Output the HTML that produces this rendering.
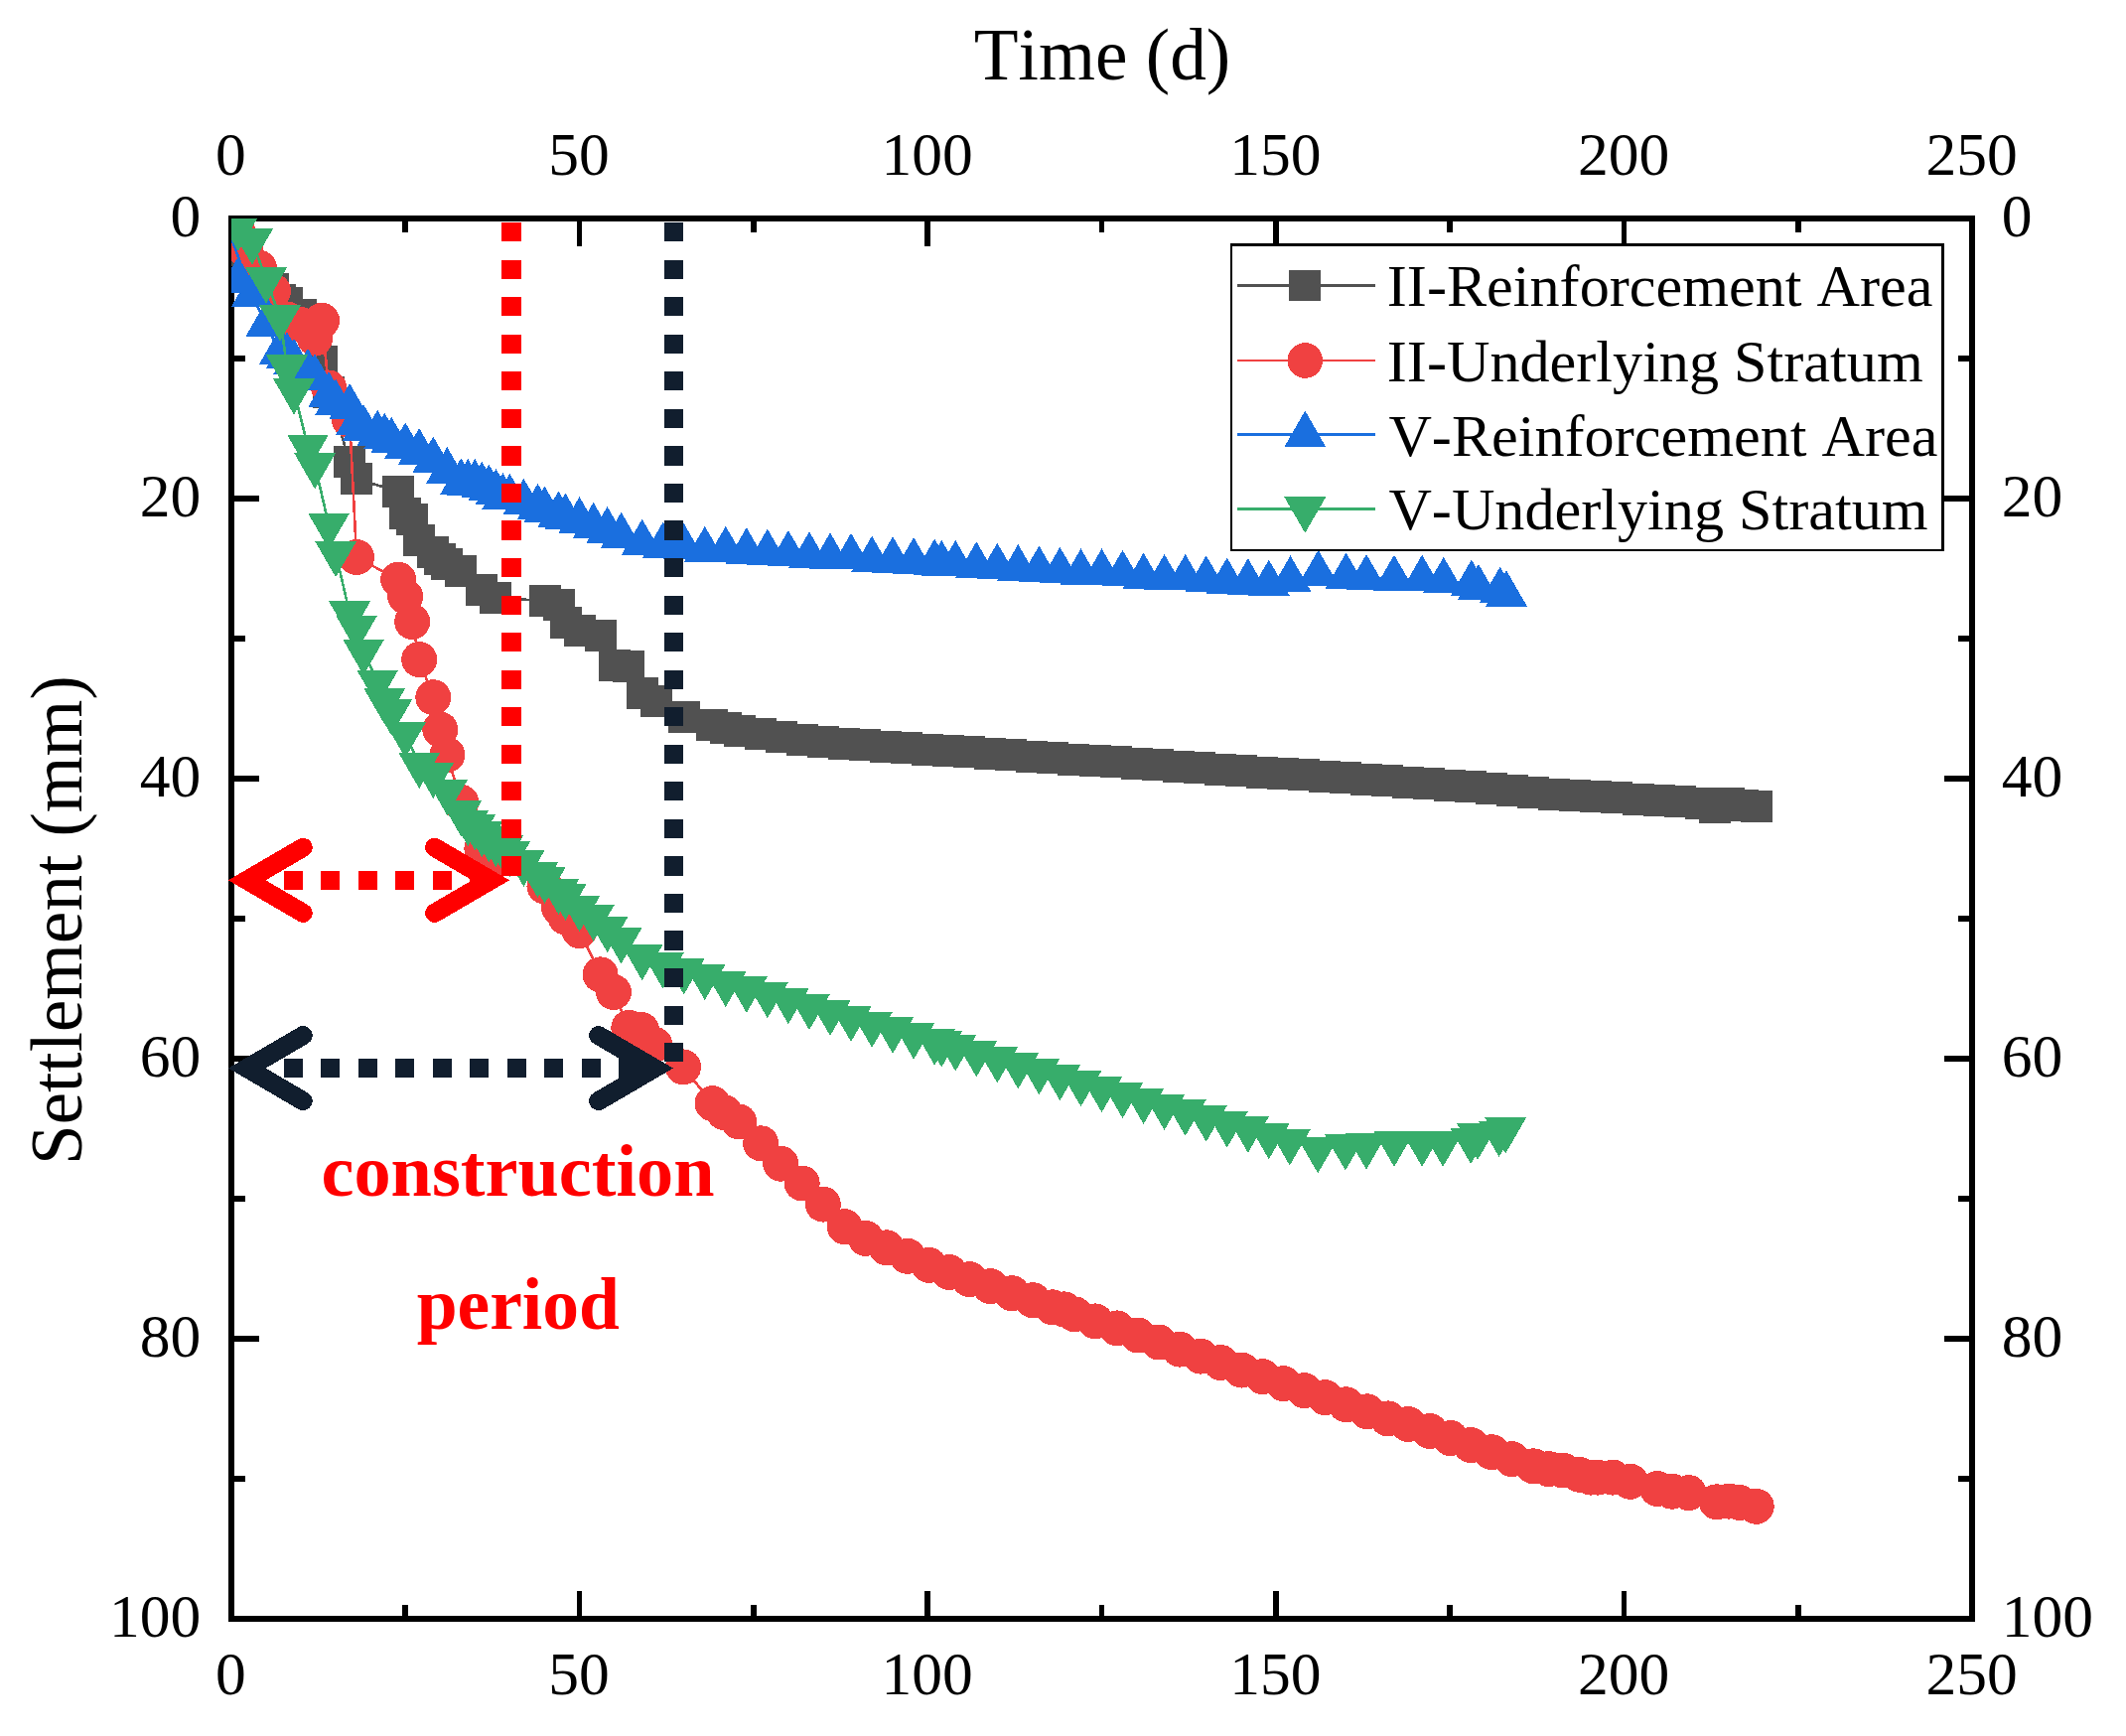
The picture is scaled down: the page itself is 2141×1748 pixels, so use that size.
<!DOCTYPE html>
<html lang="en"><head><meta charset="utf-8"><title>Settlement vs Time</title>
<style>html,body{margin:0;padding:0;background:#fff}svg{display:block}text{font-family:"Liberation Serif",serif;fill:#000;font-kerning:none}</style></head><body>
<svg width="2141" height="1748" viewBox="0 0 2141 1748" shape-rendering="crispEdges">
<rect width="2141" height="1748" fill="#fff"/>
<defs><clipPath id="plot"><rect x="232.9" y="219.9" width="1753.2" height="1410.1"/></clipPath></defs>
<g stroke="#000" stroke-width="5.6" fill="none" stroke-linecap="butt">
<rect x="232.9" y="219.9" width="1753.2" height="1410.1"/>
<path d="M232.9 1630V1602.2M232.9 219.9V247.7M408.2 1630V1616.2M408.2 219.9V233.7M583.5 1630V1602.2M583.5 219.9V247.7M758.9 1630V1616.2M758.9 219.9V233.7M934.2 1630V1602.2M934.2 219.9V247.7M1109.5 1630V1616.2M1109.5 219.9V233.7M1284.8 1630V1602.2M1284.8 219.9V247.7M1460.1 1630V1616.2M1460.1 219.9V233.7M1635.5 1630V1602.2M1635.5 219.9V247.7M1810.8 1630V1616.2M1810.8 219.9V233.7M1986.1 1630V1602.2M1986.1 219.9V247.7M232.9 219.9H260.7M1986.1 219.9H1958.3M232.9 360.9H246.7M1986.1 360.9H1972.3M232.9 501.9H260.7M1986.1 501.9H1958.3M232.9 642.9H246.7M1986.1 642.9H1972.3M232.9 783.9H260.7M1986.1 783.9H1958.3M232.9 924.9H246.7M1986.1 924.9H1972.3M232.9 1066H260.7M1986.1 1066H1958.3M232.9 1207H246.7M1986.1 1207H1972.3M232.9 1348H260.7M1986.1 1348H1958.3M232.9 1489H246.7M1986.1 1489H1972.3M232.9 1630H260.7M1986.1 1630H1958.3"/>
</g>
<g clip-path="url(#plot)">
<g fill="#515151">
<polyline points="246.9,252.3 275,291 282,301.7 289,304.5 303,317.2 324.1,363.7 331.1,394.8 352.1,465.3 359.1,482.2 401.2,494.9 408.2,517.4 415.2,523.1 422.2,544.2 436.3,555.5 443.3,562.6 450.3,568.2 464.3,575.2 485.4,593.6 499.4,602 548.5,604.9 562.5,609.1 569.5,627.4 583.5,634.5 604.6,640.1 618.6,669.7 632.6,671.1 646.7,697.9 660.7,706.4 688.7,721.9 716.8,730.4 730.8,733.2 744.8,736 765.9,738.8 786.9,741.6 807.9,744.5 829,747.3 850,748.7 871.1,750.1 892.1,751.6 913.1,753 934.2,754.5 955.2,755.9 976.3,757.3 997.3,758.8 1018.3,760.2 1039.4,761.7 1060.4,763.1 1081.4,764.6 1102.5,766 1123.5,767.4 1144.6,768.9 1165.6,770.3 1186.6,771.8 1207.7,773.2 1228.7,774.7 1249.8,776.1 1270.8,777.5 1291.8,779 1312.9,780.4 1333.9,781.9 1354.9,783.3 1376,784.8 1397,786.2 1418.1,787.6 1439.1,789.1 1460.1,790.5 1481.2,792 1502.2,793.8 1523.3,796.1 1544.3,798 1565.3,799.7 1586.4,801.1 1607.4,802 1628.4,803.4 1649.5,804.7 1670.5,805.5 1691.6,806.5 1712.6,808.6 1726.6,812.8 1740.7,809.3 1754.7,810.7 1769.1,812.1" fill="none" stroke="#515151" stroke-width="2.6" stroke-linejoin="round"/>
<path d="M230.9 236.3h32v32h-32zM259 275h32v32h-32zM266 285.7h32v32h-32zM273 288.5h32v32h-32zM287 301.2h32v32h-32zM308.1 347.7h32v32h-32zM315.1 378.8h32v32h-32zM336.1 449.3h32v32h-32zM343.1 466.2h32v32h-32zM385.2 478.9h32v32h-32zM392.2 501.4h32v32h-32zM399.2 507.1h32v32h-32zM406.2 528.2h32v32h-32zM420.3 539.5h32v32h-32zM427.3 546.6h32v32h-32zM434.3 552.2h32v32h-32zM448.3 559.2h32v32h-32zM469.4 577.6h32v32h-32zM483.4 586h32v32h-32zM532.5 588.9h32v32h-32zM546.5 593.1h32v32h-32zM553.5 611.4h32v32h-32zM567.5 618.5h32v32h-32zM588.6 624.1h32v32h-32zM602.6 653.7h32v32h-32zM616.6 655.1h32v32h-32zM630.7 681.9h32v32h-32zM644.7 690.4h32v32h-32zM672.7 705.9h32v32h-32zM700.8 714.4h32v32h-32zM714.8 717.2h32v32h-32zM728.8 720h32v32h-32zM749.9 722.8h32v32h-32zM770.9 725.6h32v32h-32zM791.9 728.5h32v32h-32zM813 731.3h32v32h-32zM834 732.7h32v32h-32zM855.1 734.1h32v32h-32zM876.1 735.6h32v32h-32zM897.1 737h32v32h-32zM918.2 738.5h32v32h-32zM939.2 739.9h32v32h-32zM960.3 741.3h32v32h-32zM981.3 742.8h32v32h-32zM1002.3 744.2h32v32h-32zM1023.4 745.7h32v32h-32zM1044.4 747.1h32v32h-32zM1065.4 748.6h32v32h-32zM1086.5 750h32v32h-32zM1107.5 751.4h32v32h-32zM1128.6 752.9h32v32h-32zM1149.6 754.3h32v32h-32zM1170.6 755.8h32v32h-32zM1191.7 757.2h32v32h-32zM1212.7 758.7h32v32h-32zM1233.8 760.1h32v32h-32zM1254.8 761.5h32v32h-32zM1275.8 763h32v32h-32zM1296.9 764.4h32v32h-32zM1317.9 765.9h32v32h-32zM1338.9 767.3h32v32h-32zM1360 768.8h32v32h-32zM1381 770.2h32v32h-32zM1402.1 771.6h32v32h-32zM1423.1 773.1h32v32h-32zM1444.1 774.5h32v32h-32zM1465.2 776h32v32h-32zM1486.2 777.8h32v32h-32zM1507.3 780.1h32v32h-32zM1528.3 782h32v32h-32zM1549.3 783.7h32v32h-32zM1570.4 785.1h32v32h-32zM1591.4 786h32v32h-32zM1612.4 787.4h32v32h-32zM1633.5 788.7h32v32h-32zM1654.5 789.5h32v32h-32zM1675.6 790.5h32v32h-32zM1696.6 792.6h32v32h-32zM1710.6 796.8h32v32h-32zM1724.7 793.3h32v32h-32zM1738.7 794.7h32v32h-32zM1753.1 796.1h32v32h-32z"/>
</g>
<g fill="#F04141">
<polyline points="239.9,235.4 246.9,250.9 261,269.8 275,293.2 289,321.4 303,327.1 317.1,340.7 324.1,322.8 331.1,390.5 352.1,423 359.1,561.1 401.2,583.7 408.2,600.6 415.2,626 422.2,664.1 436.3,702.2 443.3,734.6 450.3,760 464.3,807.9 485.4,854.4 499.4,865.7 548.5,892.5 562.9,913.7 569.5,923.5 583.5,937.1 604.6,981.4 617.9,999 633.3,1034.9 646,1037.1 659.3,1051.9 688,1074.4 717.5,1111.1 729.4,1120.2 744.1,1129.4 766.2,1151.3 786.2,1171.7 807.7,1191.5 828.8,1212.6 850.7,1235.2 871.8,1246.9 892.8,1256.3 913.8,1264.8 935.6,1273.9 955.9,1281 976.3,1288.1 997.3,1295.1 1019,1302.2 1040.1,1309.2 1059.7,1316.3 1071.6,1318.4 1082.2,1323.3 1103.2,1330.4 1124.9,1337.4 1146,1344.5 1167,1351.5 1188,1358.6 1209.1,1365.6 1229.4,1372 1250.5,1379.6 1271.5,1386.1 1292.5,1393.1 1313.6,1400.2 1334.6,1407.2 1355.6,1414.3 1376.7,1421.3 1397.7,1428.4 1418.1,1434 1439.8,1441 1460.8,1448.1 1481.2,1455.1 1502.2,1462.2 1522.6,1469.2 1544.3,1476.3 1559.7,1479.1 1573.7,1480.5 1590.6,1484.8 1601.8,1487.6 1608.8,1487.6 1624.2,1487.6 1641.8,1491.8 1669.1,1498.9 1683.8,1501.7 1700.7,1503.1 1728.7,1512.3 1741.4,1511.6 1751.9,1513 1768.7,1516.8" fill="none" stroke="#F04141" stroke-width="2.6" stroke-linejoin="round"/>
<path d="M221.9 235.4a18 18 0 1 0 36 0a18 18 0 1 0 -36 0zM228.9 250.9a18 18 0 1 0 36 0a18 18 0 1 0 -36 0zM243 269.8a18 18 0 1 0 36 0a18 18 0 1 0 -36 0zM257 293.2a18 18 0 1 0 36 0a18 18 0 1 0 -36 0zM271 321.4a18 18 0 1 0 36 0a18 18 0 1 0 -36 0zM285 327.1a18 18 0 1 0 36 0a18 18 0 1 0 -36 0zM299.1 340.7a18 18 0 1 0 36 0a18 18 0 1 0 -36 0zM306.1 322.8a18 18 0 1 0 36 0a18 18 0 1 0 -36 0zM313.1 390.5a18 18 0 1 0 36 0a18 18 0 1 0 -36 0zM334.1 423a18 18 0 1 0 36 0a18 18 0 1 0 -36 0zM341.1 561.1a18 18 0 1 0 36 0a18 18 0 1 0 -36 0zM383.2 583.7a18 18 0 1 0 36 0a18 18 0 1 0 -36 0zM390.2 600.6a18 18 0 1 0 36 0a18 18 0 1 0 -36 0zM397.2 626a18 18 0 1 0 36 0a18 18 0 1 0 -36 0zM404.2 664.1a18 18 0 1 0 36 0a18 18 0 1 0 -36 0zM418.3 702.2a18 18 0 1 0 36 0a18 18 0 1 0 -36 0zM425.3 734.6a18 18 0 1 0 36 0a18 18 0 1 0 -36 0zM432.3 760a18 18 0 1 0 36 0a18 18 0 1 0 -36 0zM446.3 807.9a18 18 0 1 0 36 0a18 18 0 1 0 -36 0zM467.4 854.4a18 18 0 1 0 36 0a18 18 0 1 0 -36 0zM481.4 865.7a18 18 0 1 0 36 0a18 18 0 1 0 -36 0zM530.5 892.5a18 18 0 1 0 36 0a18 18 0 1 0 -36 0zM544.9 913.7a18 18 0 1 0 36 0a18 18 0 1 0 -36 0zM551.5 923.5a18 18 0 1 0 36 0a18 18 0 1 0 -36 0zM565.5 937.1a18 18 0 1 0 36 0a18 18 0 1 0 -36 0zM586.6 981.4a18 18 0 1 0 36 0a18 18 0 1 0 -36 0zM599.9 999a18 18 0 1 0 36 0a18 18 0 1 0 -36 0zM615.3 1034.9a18 18 0 1 0 36 0a18 18 0 1 0 -36 0zM628 1037.1a18 18 0 1 0 36 0a18 18 0 1 0 -36 0zM641.3 1051.9a18 18 0 1 0 36 0a18 18 0 1 0 -36 0zM670 1074.4a18 18 0 1 0 36 0a18 18 0 1 0 -36 0zM699.5 1111.1a18 18 0 1 0 36 0a18 18 0 1 0 -36 0zM711.4 1120.2a18 18 0 1 0 36 0a18 18 0 1 0 -36 0zM726.1 1129.4a18 18 0 1 0 36 0a18 18 0 1 0 -36 0zM748.2 1151.3a18 18 0 1 0 36 0a18 18 0 1 0 -36 0zM768.2 1171.7a18 18 0 1 0 36 0a18 18 0 1 0 -36 0zM789.7 1191.5a18 18 0 1 0 36 0a18 18 0 1 0 -36 0zM810.8 1212.6a18 18 0 1 0 36 0a18 18 0 1 0 -36 0zM832.7 1235.2a18 18 0 1 0 36 0a18 18 0 1 0 -36 0zM853.8 1246.9a18 18 0 1 0 36 0a18 18 0 1 0 -36 0zM874.8 1256.3a18 18 0 1 0 36 0a18 18 0 1 0 -36 0zM895.8 1264.8a18 18 0 1 0 36 0a18 18 0 1 0 -36 0zM917.6 1273.9a18 18 0 1 0 36 0a18 18 0 1 0 -36 0zM937.9 1281a18 18 0 1 0 36 0a18 18 0 1 0 -36 0zM958.3 1288.1a18 18 0 1 0 36 0a18 18 0 1 0 -36 0zM979.3 1295.1a18 18 0 1 0 36 0a18 18 0 1 0 -36 0zM1001 1302.2a18 18 0 1 0 36 0a18 18 0 1 0 -36 0zM1022.1 1309.2a18 18 0 1 0 36 0a18 18 0 1 0 -36 0zM1041.7 1316.3a18 18 0 1 0 36 0a18 18 0 1 0 -36 0zM1053.6 1318.4a18 18 0 1 0 36 0a18 18 0 1 0 -36 0zM1064.2 1323.3a18 18 0 1 0 36 0a18 18 0 1 0 -36 0zM1085.2 1330.4a18 18 0 1 0 36 0a18 18 0 1 0 -36 0zM1106.9 1337.4a18 18 0 1 0 36 0a18 18 0 1 0 -36 0zM1128 1344.5a18 18 0 1 0 36 0a18 18 0 1 0 -36 0zM1149 1351.5a18 18 0 1 0 36 0a18 18 0 1 0 -36 0zM1170 1358.6a18 18 0 1 0 36 0a18 18 0 1 0 -36 0zM1191.1 1365.6a18 18 0 1 0 36 0a18 18 0 1 0 -36 0zM1211.4 1372a18 18 0 1 0 36 0a18 18 0 1 0 -36 0zM1232.5 1379.6a18 18 0 1 0 36 0a18 18 0 1 0 -36 0zM1253.5 1386.1a18 18 0 1 0 36 0a18 18 0 1 0 -36 0zM1274.5 1393.1a18 18 0 1 0 36 0a18 18 0 1 0 -36 0zM1295.6 1400.2a18 18 0 1 0 36 0a18 18 0 1 0 -36 0zM1316.6 1407.2a18 18 0 1 0 36 0a18 18 0 1 0 -36 0zM1337.6 1414.3a18 18 0 1 0 36 0a18 18 0 1 0 -36 0zM1358.7 1421.3a18 18 0 1 0 36 0a18 18 0 1 0 -36 0zM1379.7 1428.4a18 18 0 1 0 36 0a18 18 0 1 0 -36 0zM1400.1 1434a18 18 0 1 0 36 0a18 18 0 1 0 -36 0zM1421.8 1441a18 18 0 1 0 36 0a18 18 0 1 0 -36 0zM1442.8 1448.1a18 18 0 1 0 36 0a18 18 0 1 0 -36 0zM1463.2 1455.1a18 18 0 1 0 36 0a18 18 0 1 0 -36 0zM1484.2 1462.2a18 18 0 1 0 36 0a18 18 0 1 0 -36 0zM1504.6 1469.2a18 18 0 1 0 36 0a18 18 0 1 0 -36 0zM1526.3 1476.3a18 18 0 1 0 36 0a18 18 0 1 0 -36 0zM1541.7 1479.1a18 18 0 1 0 36 0a18 18 0 1 0 -36 0zM1555.7 1480.5a18 18 0 1 0 36 0a18 18 0 1 0 -36 0zM1572.6 1484.8a18 18 0 1 0 36 0a18 18 0 1 0 -36 0zM1583.8 1487.6a18 18 0 1 0 36 0a18 18 0 1 0 -36 0zM1590.8 1487.6a18 18 0 1 0 36 0a18 18 0 1 0 -36 0zM1606.2 1487.6a18 18 0 1 0 36 0a18 18 0 1 0 -36 0zM1623.8 1491.8a18 18 0 1 0 36 0a18 18 0 1 0 -36 0zM1651.1 1498.9a18 18 0 1 0 36 0a18 18 0 1 0 -36 0zM1665.8 1501.7a18 18 0 1 0 36 0a18 18 0 1 0 -36 0zM1682.7 1503.1a18 18 0 1 0 36 0a18 18 0 1 0 -36 0zM1710.7 1512.3a18 18 0 1 0 36 0a18 18 0 1 0 -36 0zM1723.4 1511.6a18 18 0 1 0 36 0a18 18 0 1 0 -36 0zM1733.9 1513a18 18 0 1 0 36 0a18 18 0 1 0 -36 0zM1750.7 1516.8a18 18 0 1 0 36 0a18 18 0 1 0 -36 0z"/>
</g>
<g fill="#1A6FDF">
<polyline points="230.4,232.6 253.9,296.8 268,327.3 282,354.6 289,358.7 296,365.1 310,375 317.1,380.7 331.1,398.3 338.1,406 352.1,410.3 359.1,425.8 366.1,431.4 380.2,437.1 387.2,439.9 394.2,444.1 408.2,449.7 422.2,455.4 436.3,463.8 450.3,474.4 464.3,485.7 471.3,486.4 478.3,486.4 485.4,489.2 492.4,492 499.4,496.3 506.4,500.5 513.4,501.2 527.4,506.2 541.5,511.2 548.5,513.9 562.5,518.8 569.5,521 583.5,524.5 597.6,530.1 611.6,534.4 625.6,540 646.7,547 667.7,549.9 688.7,551.3 709.8,554.1 730.8,554.1 751.8,555.5 772.9,556.9 793.9,558.3 815,559.7 836,560.6 857,561.1 878.1,564 899.1,564.5 920.2,565.4 941.2,566.8 948.2,568.2 962.2,568.2 983.3,569.6 1004.3,571 1025.3,572.4 1046.4,573.8 1067.4,575.2 1088.5,576.7 1109.5,576.7 1130.5,578.1 1151.6,580.9 1172.6,582.3 1193.7,582.3 1214.7,583.7 1235.7,585.8 1256.8,586.5 1277.8,587.9 1299.5,583.7 1327.6,578.1 1355.6,580.9 1376,582.3 1404,583 1432.1,583 1453.8,585.1 1481.9,587.9 1488.9,592.2 1510.6,595 1516.9,598.5" fill="none" stroke="#1A6FDF" stroke-width="2.6" stroke-linejoin="round"/>
<path d="M239.9 258.3L260.9 294.7H218.9zM253.9 272.5L274.9 308.9H232.9zM268 303L289 339.4H247zM282 330.3L303 366.7H261zM289 334.4L310 370.8H268zM296 340.8L317 377.2H275zM310 350.7L331 387.1H289zM317.1 356.4L338.1 392.8H296.1zM331.1 374L352.1 410.4H310.1zM338.1 381.7L359.1 418.1H317.1zM352.1 386L373.1 422.4H331.1zM359.1 401.5L380.1 437.9H338.1zM366.1 407.1L387.1 443.5H345.1zM380.2 412.8L401.2 449.2H359.2zM387.2 415.6L408.2 452H366.2zM394.2 419.8L415.2 456.2H373.2zM408.2 425.4L429.2 461.8H387.2zM422.2 431.1L443.2 467.5H401.2zM436.3 439.5L457.3 475.9H415.3zM450.3 450.1L471.3 486.5H429.3zM464.3 461.4L485.3 497.8H443.3zM471.3 462.1L492.3 498.5H450.3zM478.3 462.1L499.3 498.5H457.3zM485.4 464.9L506.4 501.3H464.4zM492.4 467.7L513.4 504.1H471.4zM499.4 472L520.4 508.4H478.4zM506.4 476.2L527.4 512.6H485.4zM513.4 476.9L534.4 513.3H492.4zM527.4 481.9L548.4 518.3H506.4zM541.5 486.9L562.5 523.3H520.5zM548.5 489.6L569.5 526H527.5zM562.5 494.5L583.5 530.9H541.5zM569.5 496.7L590.5 533.1H548.5zM583.5 500.2L604.5 536.6H562.5zM597.6 505.8L618.6 542.2H576.6zM611.6 510.1L632.6 546.5H590.6zM625.6 515.7L646.6 552.1H604.6zM646.7 522.7L667.7 559.1H625.7zM667.7 525.6L688.7 562H646.7zM688.7 527L709.7 563.4H667.7zM709.8 529.8L730.8 566.2H688.8zM730.8 529.8L751.8 566.2H709.8zM751.8 531.2L772.8 567.6H730.8zM772.9 532.6L793.9 569H751.9zM793.9 534L814.9 570.4H772.9zM815 535.4L836 571.8H794zM836 536.3L857 572.7H815zM857 536.8L878 573.2H836zM878.1 539.7L899.1 576.1H857.1zM899.1 540.2L920.1 576.6H878.1zM920.2 541.1L941.2 577.5H899.2zM941.2 542.5L962.2 578.9H920.2zM948.2 543.9L969.2 580.3H927.2zM962.2 543.9L983.2 580.3H941.2zM983.3 545.3L1004.3 581.7H962.3zM1004.3 546.7L1025.3 583.1H983.3zM1025.3 548.1L1046.3 584.5H1004.3zM1046.4 549.5L1067.4 585.9H1025.4zM1067.4 550.9L1088.4 587.3H1046.4zM1088.5 552.4L1109.5 588.8H1067.5zM1109.5 552.4L1130.5 588.8H1088.5zM1130.5 553.8L1151.5 590.2H1109.5zM1151.6 556.6L1172.6 593H1130.6zM1172.6 558L1193.6 594.4H1151.6zM1193.7 558L1214.7 594.4H1172.7zM1214.7 559.4L1235.7 595.8H1193.7zM1235.7 561.5L1256.7 597.9H1214.7zM1256.8 562.2L1277.8 598.6H1235.8zM1277.8 563.6L1298.8 600H1256.8zM1299.5 559.4L1320.5 595.8H1278.5zM1327.6 553.8L1348.6 590.2H1306.6zM1355.6 556.6L1376.6 593H1334.6zM1376 558L1397 594.4H1355zM1404 558.7L1425 595.1H1383zM1432.1 558.7L1453.1 595.1H1411.1zM1453.8 560.8L1474.8 597.2H1432.8zM1481.9 563.6L1502.9 600H1460.9zM1488.9 567.9L1509.9 604.3H1467.9zM1510.6 570.7L1531.6 607.1H1489.6zM1516.9 574.2L1537.9 610.6H1495.9z"/>
</g>
<g fill="#37AD6B">
<polyline points="239.9,228.8 253.9,242.5 268,281.5 282,319.3 289,369.4 296,393.3 310,449.7 317.1,468.1 331.1,528.7 338.1,556.9 352.1,617.5 359.1,631.6 366.1,655.6 380.2,686.6 387.2,705 394.2,716.3 408.2,738.8 422.2,769.8 436.3,779.7 450.3,796.6 464.3,817.8 471.3,827.7 478.3,831.9 485.4,838.9 492.4,843.9 499.4,848.8 506.4,853 513.4,858.7 527.4,868.5 541.5,879.8 548.5,885.5 562.5,896.7 569.5,902.4 583.5,913.7 597.6,923.5 611.6,934.8 625.6,946.1 646.7,963 667.7,971.5 688.7,977.1 709.8,982.8 730.8,989.8 751.8,995.5 772.9,1001 793.9,1006.9 815,1012.8 836,1018.7 857,1024.7 878.1,1030.6 899.1,1036.5 920.2,1042.4 941.2,1048.4 948.2,1050.3 962.2,1054.3 983.3,1060.2 1004.3,1066.2 1025.3,1072.1 1046.4,1078 1067.4,1083.9 1088.5,1089.9 1109.5,1095.8 1130.5,1101.7 1151.6,1107.6 1172.6,1113.6 1193.7,1119.5 1214.7,1125.4 1235.7,1131.3 1256.8,1136.5 1277.8,1143 1298.8,1149.2 1327.2,1157.1 1354.9,1154.2 1376,1153.4 1404,1150.6 1432.1,1150.6 1453.1,1150.6 1481.2,1147.7 1488.2,1143.5 1509.6,1140.7 1516.2,1137.2" fill="none" stroke="#37AD6B" stroke-width="2.6" stroke-linejoin="round"/>
<path d="M239.9 253.1L260.9 216.7H218.9zM253.9 266.8L274.9 230.4H232.9zM268 305.8L289 269.4H247zM282 343.6L303 307.2H261zM289 393.7L310 357.3H268zM296 417.6L317 381.2H275zM310 474L331 437.6H289zM317.1 492.4L338.1 456H296.1zM331.1 553L352.1 516.6H310.1zM338.1 581.2L359.1 544.8H317.1zM352.1 641.8L373.1 605.4H331.1zM359.1 655.9L380.1 619.5H338.1zM366.1 679.9L387.1 643.5H345.1zM380.2 710.9L401.2 674.5H359.2zM387.2 729.3L408.2 692.9H366.2zM394.2 740.6L415.2 704.2H373.2zM408.2 763.1L429.2 726.7H387.2zM422.2 794.1L443.2 757.7H401.2zM436.3 804L457.3 767.6H415.3zM450.3 820.9L471.3 784.5H429.3zM464.3 842.1L485.3 805.7H443.3zM471.3 852L492.3 815.6H450.3zM478.3 856.2L499.3 819.8H457.3zM485.4 863.2L506.4 826.8H464.4zM492.4 868.2L513.4 831.8H471.4zM499.4 873.1L520.4 836.7H478.4zM506.4 877.3L527.4 840.9H485.4zM513.4 883L534.4 846.6H492.4zM527.4 892.8L548.4 856.4H506.4zM541.5 904.1L562.5 867.7H520.5zM548.5 909.8L569.5 873.4H527.5zM562.5 921L583.5 884.6H541.5zM569.5 926.7L590.5 890.3H548.5zM583.5 938L604.5 901.6H562.5zM597.6 947.8L618.6 911.4H576.6zM611.6 959.1L632.6 922.7H590.6zM625.6 970.4L646.6 934H604.6zM646.7 987.3L667.7 950.9H625.7zM667.7 995.8L688.7 959.4H646.7zM688.7 1001.4L709.7 965H667.7zM709.8 1007.1L730.8 970.7H688.8zM730.8 1014.1L751.8 977.7H709.8zM751.8 1019.8L772.8 983.4H730.8zM772.9 1025.3L793.9 988.9H751.9zM793.9 1031.2L814.9 994.8H772.9zM815 1037.1L836 1000.7H794zM836 1043L857 1006.6H815zM857 1049L878 1012.6H836zM878.1 1054.9L899.1 1018.5H857.1zM899.1 1060.8L920.1 1024.4H878.1zM920.2 1066.7L941.2 1030.3H899.2zM941.2 1072.7L962.2 1036.3H920.2zM948.2 1074.6L969.2 1038.2H927.2zM962.2 1078.6L983.2 1042.2H941.2zM983.3 1084.5L1004.3 1048.1H962.3zM1004.3 1090.5L1025.3 1054.1H983.3zM1025.3 1096.4L1046.3 1060H1004.3zM1046.4 1102.3L1067.4 1065.9H1025.4zM1067.4 1108.2L1088.4 1071.8H1046.4zM1088.5 1114.2L1109.5 1077.8H1067.5zM1109.5 1120.1L1130.5 1083.7H1088.5zM1130.5 1126L1151.5 1089.6H1109.5zM1151.6 1131.9L1172.6 1095.5H1130.6zM1172.6 1137.9L1193.6 1101.5H1151.6zM1193.7 1143.8L1214.7 1107.4H1172.7zM1214.7 1149.7L1235.7 1113.3H1193.7zM1235.7 1155.6L1256.7 1119.2H1214.7zM1256.8 1160.8L1277.8 1124.4H1235.8zM1277.8 1167.3L1298.8 1130.9H1256.8zM1298.8 1173.5L1319.8 1137.1H1277.8zM1327.2 1181.4L1348.2 1145H1306.2zM1354.9 1178.5L1375.9 1142.1H1333.9zM1376 1177.7L1397 1141.3H1355zM1404 1174.9L1425 1138.5H1383zM1432.1 1174.9L1453.1 1138.5H1411.1zM1453.1 1174.9L1474.1 1138.5H1432.1zM1481.2 1172L1502.2 1135.6H1460.2zM1488.2 1167.8L1509.2 1131.4H1467.2zM1509.6 1165L1530.6 1128.6H1488.6zM1516.2 1161.5L1537.2 1125.1H1495.2z"/>
</g>
</g>
<rect x="1240" y="246.5" width="716.6" height="307.5" fill="#fff" stroke="#000" stroke-width="2.8"/>
<path d="M1245.7 287.6H1384.5" stroke="#515151" stroke-width="2.6" fill="none"/>
<rect x="1298.3" y="272" width="32" height="31.2" fill="#515151"/>
<text x="1396.8" y="308.4" font-size="60.2">II-Reinforcement Area</text>
<path d="M1245.7 363H1384.5" stroke="#F04141" stroke-width="2.6" fill="none"/>
<circle cx="1314.3" cy="363" r="17.8" fill="#F04141"/>
<text x="1396.8" y="383.8" font-size="60.2">II-Underlying Stratum</text>
<path d="M1245.7 437.7H1384.5" stroke="#1A6FDF" stroke-width="2.6" fill="none"/>
<path d="M1314.3 413.4L1335.3 450.2H1293.3z" fill="#1A6FDF"/>
<text x="1398.4" y="458.5" font-size="60.2">V-Reinforcement Area</text>
<path d="M1245.7 512.4H1384.5" stroke="#37AD6B" stroke-width="2.6" fill="none"/>
<path d="M1314.3 536.7L1335.3 500.3H1293.3z" fill="#37AD6B"/>
<text x="1398.4" y="533.2" font-size="60.2">V-Underlying Stratum</text>
<path d="M514.8 224V882.6" stroke="#FF0000" stroke-width="19.5" stroke-dasharray="19.2 18.35" fill="none"/>
<path d="M678.3 224V1070" stroke="#111E2E" stroke-width="19.5" stroke-dasharray="19.2 18.35" fill="none"/>
<path d="M248 886.3H493.2" stroke="#FF0000" stroke-width="19.5" stroke-dasharray="19.2 18.3" fill="none"/>
<path d="M305.2 853.3L248.7 886.3L305.2 919.3M437.7 853.3L494.2 886.3L437.7 919.3" stroke="#FF0000" stroke-width="19" stroke-linecap="round" stroke-linejoin="miter" fill="none"/>
<path d="M248 1075.6H658.2" stroke="#111E2E" stroke-width="19.5" stroke-dasharray="19.2 18.3" fill="none"/>
<path d="M305.2 1042.6L248.7 1075.6L305.2 1108.6M602.7 1042.6L659.2 1075.6L602.7 1108.6" stroke="#111E2E" stroke-width="19" stroke-linecap="round" stroke-linejoin="miter" fill="none"/>
<text x="521.5" y="1204" font-size="73.5" font-weight="bold" text-anchor="middle" textLength="396" lengthAdjust="spacingAndGlyphs" style="fill:#FF0000">construction</text>
<text x="521.8" y="1337.8" font-size="73.5" font-weight="bold" text-anchor="middle" style="fill:#FF0000">period</text>
<text x="232.4" y="175.9" font-size="61.5" text-anchor="middle">0</text>
<text x="232.4" y="1706.1" font-size="61.5" text-anchor="middle">0</text>
<text x="583" y="175.9" font-size="61.5" text-anchor="middle">50</text>
<text x="583" y="1706.1" font-size="61.5" text-anchor="middle">50</text>
<text x="933.7" y="175.9" font-size="61.5" text-anchor="middle">100</text>
<text x="933.7" y="1706.1" font-size="61.5" text-anchor="middle">100</text>
<text x="1284.3" y="175.9" font-size="61.5" text-anchor="middle">150</text>
<text x="1284.3" y="1706.1" font-size="61.5" text-anchor="middle">150</text>
<text x="1635" y="175.9" font-size="61.5" text-anchor="middle">200</text>
<text x="1635" y="1706.1" font-size="61.5" text-anchor="middle">200</text>
<text x="1985.6" y="175.9" font-size="61.5" text-anchor="middle">250</text>
<text x="1985.6" y="1706.1" font-size="61.5" text-anchor="middle">250</text>
<text x="202.2" y="237.9" font-size="61.5" text-anchor="end">0</text>
<text x="2015.8" y="237.9" font-size="61.5" text-anchor="start">0</text>
<text x="202.2" y="519.9" font-size="61.5" text-anchor="end">20</text>
<text x="2015.8" y="519.9" font-size="61.5" text-anchor="start">20</text>
<text x="202.2" y="801.9" font-size="61.5" text-anchor="end">40</text>
<text x="2015.8" y="801.9" font-size="61.5" text-anchor="start">40</text>
<text x="202.2" y="1084" font-size="61.5" text-anchor="end">60</text>
<text x="2015.8" y="1084" font-size="61.5" text-anchor="start">60</text>
<text x="202.2" y="1366" font-size="61.5" text-anchor="end">80</text>
<text x="2015.8" y="1366" font-size="61.5" text-anchor="start">80</text>
<text x="202.2" y="1648" font-size="61.5" text-anchor="end">100</text>
<text x="2015.8" y="1648" font-size="61.5" text-anchor="start">100</text>
<text x="1110" y="79.5" font-size="73.3" text-anchor="middle">Time (d)</text>
<text transform="translate(82.3 926.6) rotate(-90)" font-size="73" text-anchor="middle">Settlement (mm)</text>
</svg></body></html>
